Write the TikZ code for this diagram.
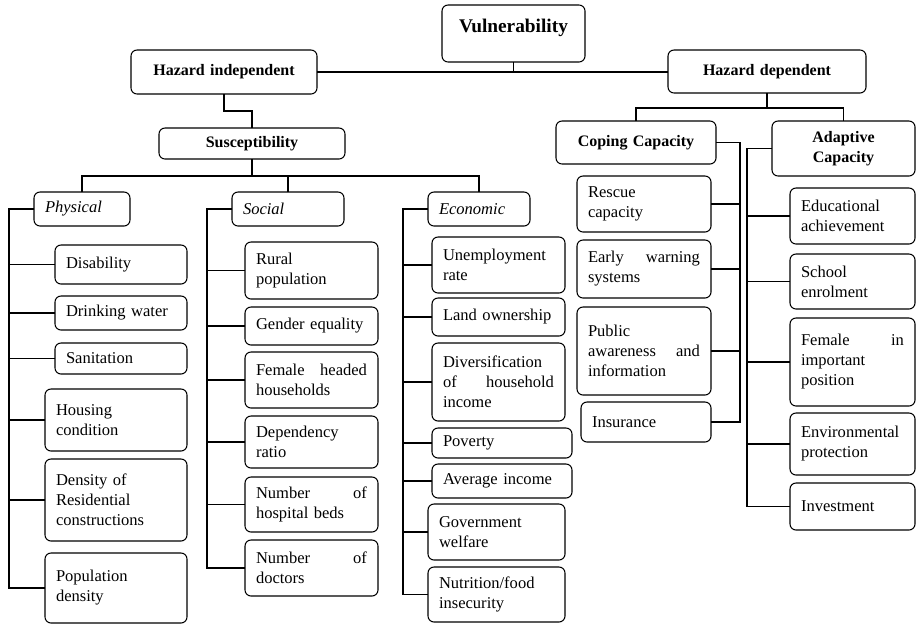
\documentclass[tikz,border=0pt]{standalone}
\usepackage{fontspec}
\setmainfont{Liberation Serif}
\usetikzlibrary{calc}
\tikzset{
  cbox/.style={draw, rounded corners=4.5pt, line width=0.8pt, inner xsep=8.25pt, inner ysep=1pt, outer sep=0pt, align=left, font=\fontsize{12.4}{15}\selectfont},
  ttl/.style={align=center, font=\fontsize{12}{15}\selectfont\bfseries},
  conn/.style={line width=0.9pt}
}
\newcommand\bx[7][]{%
  \pgfmathsetmacro\bxw{(#5-#3)*0.75}%
  \pgfmathsetmacro\bxh{(#6-#4)*0.75}%
  \pgfmathsetmacro\bxt{(#5-#3-22)*0.75}%
  \node[cbox,minimum width=\bxw pt,minimum height=\bxh pt,text width=\bxt pt,#1] (#2) at ({(#3+#5)/2},{(#4+#6)/2}) {#7};}
\begin{document}
\begin{tikzpicture}[x=0.75pt,y=-0.75pt]
\useasboundingbox (0,0) rectangle (917,626);
% titles
\bx[ttl,font=\fontsize{14.5}{17}\selectfont\bfseries,text depth=11pt]{v}{442}{5}{585}{62}{Vulnerability}
\bx[ttl]{hi}{131}{50}{317}{94}{Hazard independent}
\bx[ttl]{hd}{668}{50}{866}{93}{Hazard dependent}
\bx[ttl]{sus}{159}{128}{345}{159}{Susceptibility}
\bx[ttl]{cop}{556}{121}{716}{164}{Coping Capacity}
\bx[ttl]{ada}{772}{121}{915}{176}{Adaptive\\Capacity}
% categories
\bx{phy}{34}{192}{130}{226}{\textit{Physical}}
\bx{soc}{232}{192}{344}{226}{\textit{Social}}
\bx{eco}{428}{192}{530}{226}{\textit{Economic}}
% physical
\bx{dis}{55}{245}{187}{284}{Disability}
\bx{dw}{55}{296}{187}{330}{Drinking water}
\bx{san}{55}{343}{187}{374}{Sanitation}
\bx{hou}{45}{389}{187}{451}{Housing\\condition}
\bx{den}{45}{459}{187}{541}{Density of\\Residential\\constructions}
\bx{pop}{45}{553}{187}{623}{Population\\density}
% social
\bx{rur}{245}{242}{378}{299}{Rural\\population}
\bx{gen}{245}{307}{378}{345}{Gender equality}
\bx{fem}{245}{352}{378}{408}{Female\hfill headed\\households}
\bx{dep}{245}{416}{378}{468}{Dependency\\ratio}
\bx{hos}{245}{477}{378}{532}{Number\hfill of\\hospital beds}
\bx{doc}{245}{540}{378}{596}{Number\hfill of\\doctors}
% economic
\bx{une}{432}{237}{565}{293}{Unemployment\\rate}
\bx{lan}{432}{298}{565}{336}{Land ownership}
\bx{div}{432}{343}{565}{421}{Diversification\\of\hfill household\\income}
\bx{pov}{432}{428}{572}{458}{Poverty}
\bx{avg}{432}{464}{572}{498}{Average income}
\bx{gov}{428}{504}{565}{560}{Government\\welfare}
\bx{nut}{428}{567}{565}{622}{Nutrition/food\\insecurity}
% coping
\bx{res}{577}{176}{711}{232}{Rescue\\capacity}
\bx{ews}{577}{240}{711}{298}{Early\hfill warning\\systems}
\bx{pub}{577}{307}{711}{395}{Public\\awareness\hfill and\\information}
\bx{ins}{581}{402}{711}{442}{Insurance}
% adaptive
\bx{edu}{790}{188}{915}{244}{Educational\\achievement}
\bx{sch}{790}{254}{915}{309}{School\\enrolment}
\bx{fip}{790}{318}{915}{406}{Female\hfill in\\important\\position}
\bx{env}{790}{413}{915}{475}{Environmental\\protection}
\bx{inv}{790}{483}{915}{530}{Investment}
% connectors top
\draw[conn] (hi.east) -- (hi.east -| hd.west);
\draw[conn] (v.south) -- (v.south |- hi.east);
\draw[conn] (hi.south) -- ++(0,17) -| (sus.north);
\coordinate (susbus) at ($(sus.south)+(0,17)$);
\draw[conn] (sus.south) -- (susbus);
\draw[conn] (phy.north) |- (susbus) -| (eco.north);
\draw[conn] (soc.north) -- (soc.north |- susbus);
\coordinate (hdbus) at ($(hd.south)+(0,15)$);
\draw[conn] (hd.south) -- (hdbus);
\draw[conn] (cop.north) |- (hdbus) -| (ada.north);
% spines
\coordinate (physp) at (9,0);
\coordinate (socsp) at (207,0);
\coordinate (ecosp) at (403,0);
\coordinate (copsp) at (740,0);
\coordinate (adasp) at (747,0);
\draw[conn] (phy.west) -- (phy.west -| physp) |- (pop.west);
\foreach \n in {dis,dw,san,hou,den} \draw[conn] (\n.west) -- (\n.west -| physp);
\draw[conn] (soc.west) -- (soc.west -| socsp) |- (doc.west);
\foreach \n in {rur,gen,fem,dep,hos} \draw[conn] (\n.west) -- (\n.west -| socsp);
\draw[conn] (eco.west) -- (eco.west -| ecosp) |- (nut.west);
\foreach \n in {une,lan,div,pov,avg,gov} \draw[conn] (\n.west) -- (\n.west -| ecosp);
\draw[conn] (cop.east) -- (cop.east -| copsp) |- (ins.east);
\foreach \n in {res,ews,pub} \draw[conn] (\n.east) -- (\n.east -| copsp);
\draw[conn] (ada.west) -- (ada.west -| adasp) |- (inv.west);
\foreach \n in {edu,sch,fip,env} \draw[conn] (\n.west) -- (\n.west -| adasp);
\end{tikzpicture}
\end{document}
